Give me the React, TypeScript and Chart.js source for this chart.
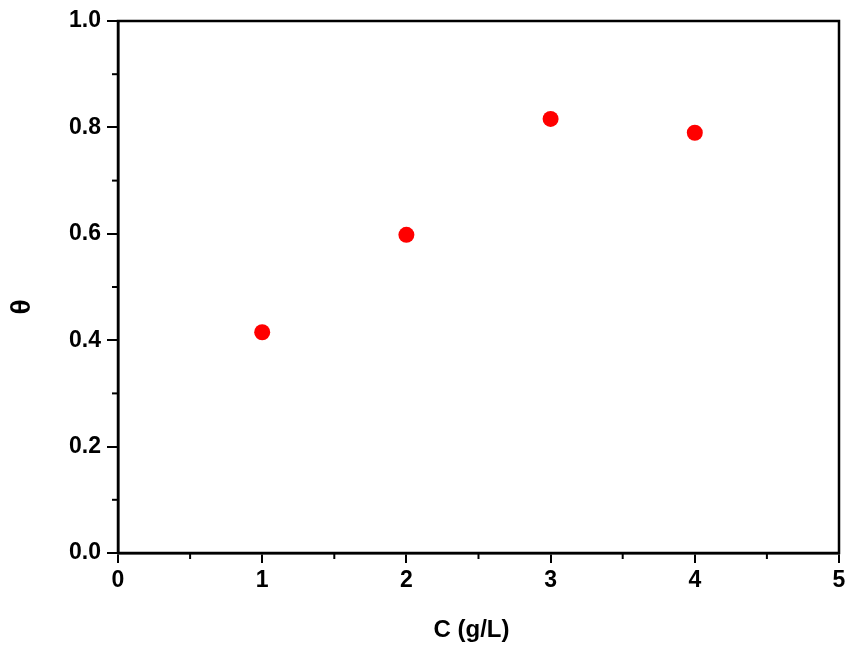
import React, { useEffect, useRef } from "react";
import { Chart, registerables } from "chart.js";

Chart.register(...registerables);

const concentrations = [1, 2, 3, 4];
const thetaValues = [0.415, 0.598, 0.816, 0.79];
const xTickValues = [0, 1, 2, 3, 4, 5];
const yTickValues = [0, 0.2, 0.4, 0.6, 0.8, 1.0];
const xTitle = "C (g/L)";
const yTitle = "θ";

const FONT = "'Liberation Sans', Arial, sans-serif";

const framePlugin = {
  id: "frameAndMinor",
  afterDraw(chart: any) {
    const { ctx, chartArea, scales } = chart;
    const { left, right, top, bottom } = chartArea;
    ctx.save();
    ctx.strokeStyle = "#000";
    ctx.lineWidth = 2.5;
    ctx.beginPath();
    ctx.moveTo(left, bottom);
    ctx.lineTo(left, top);
    ctx.lineTo(right, top);
    ctx.lineTo(right, bottom);
    ctx.lineTo(left, bottom);
    ctx.stroke();
    // minor ticks
    ctx.lineWidth = 2;
    const xs = scales.x;
    const ys = scales.y;
    for (let i = 0; i < xTickValues.length - 1; i++) {
      const v = (xTickValues[i] + xTickValues[i + 1]) / 2;
      const px = xs.getPixelForValue(v);
      ctx.beginPath();
      ctx.moveTo(px, bottom);
      ctx.lineTo(px, bottom + 6);
      ctx.stroke();
    }
    for (let i = 0; i < yTickValues.length - 1; i++) {
      const v = (yTickValues[i] + yTickValues[i + 1]) / 2;
      const py = ys.getPixelForValue(v);
      ctx.beginPath();
      ctx.moveTo(left, py);
      ctx.lineTo(left - 6, py);
      ctx.stroke();
    }
    // axis titles
    ctx.fillStyle = "#000";
    ctx.textAlign = "center";
    ctx.textBaseline = "middle";
    ctx.font = `bold 24px ${FONT}`;
    ctx.fillText(xTitle, (left + right) / 2 - 7, 630);
    ctx.translate(22, (top + bottom) / 2 + 20);
    ctx.rotate(-Math.PI / 2);
    ctx.font = `bold 28px ${FONT}`;
    ctx.fillText(yTitle, 0, 0);
    ctx.restore();
  },
};

export default function App() {
  const ref = useRef<HTMLCanvasElement>(null);
  useEffect(() => {
    document.body.style.margin = "0";
    const canvas = ref.current!;
    const chart = new Chart(canvas, {
      type: "scatter",
      data: {
        datasets: [
          {
            data: concentrations.map((c, i) => ({ x: c, y: thetaValues[i] })),
            backgroundColor: "#ff0000",
            borderColor: "#ff0000",
            pointRadius: 8,
            pointHoverRadius: 8,
            borderWidth: 0,
          },
        ],
      },
      options: {
        responsive: false,
        animation: false,
        devicePixelRatio: 1,
        layout: { padding: { left: 0, top: 21, right: 11, bottom: 0 } },
        plugins: { legend: { display: false }, tooltip: { enabled: false } },
        scales: {
          x: {
            type: "linear",
            min: 0,
            max: 5,
            afterBuildTicks: (s: any) => {
              s.ticks = xTickValues.map((v) => ({ value: v }));
            },
            afterFit: (s: any) => {
              s.height = 95;
            },
            border: { display: true, color: "#000", width: 2.5 },
            grid: { display: true, drawOnChartArea: false, drawTicks: true, tickLength: 10, color: "#000", lineWidth: 2 },
            ticks: { color: "#000", padding: 4, font: { family: FONT, size: 23, weight: "bold" }, callback: (v: any) => String(v) },
            title: { display: false, text: xTitle },
          },
          y: {
            type: "linear",
            min: 0,
            max: 1,
            afterBuildTicks: (s: any) => {
              s.ticks = yTickValues.map((v) => ({ value: v }));
            },
            afterFit: (s: any) => {
              s.width = 118;
            },
            border: { display: true, color: "#000", width: 2.5 },
            grid: { display: true, drawOnChartArea: false, drawTicks: true, tickLength: 11, color: "#000", lineWidth: 2 },
            ticks: { color: "#000", padding: 6, font: { family: FONT, size: 23, weight: "bold" }, callback: (v: any) => Number(v).toFixed(1) },
            title: { display: false, text: yTitle },
          },
        },
      },
      plugins: [framePlugin],
    });
    return () => chart.destroy();
  }, []);
  return (
    <div style={{ width: 850, height: 648, background: "#fff" }}>
      <canvas ref={ref} width={850} height={648} style={{ display: "block" }} />
    </div>
  );
}
